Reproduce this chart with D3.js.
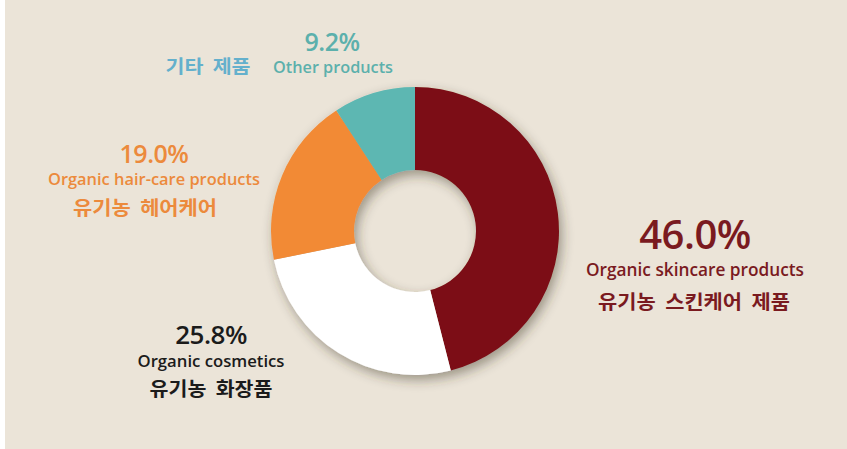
<!DOCTYPE html>
<html>
<head>
<meta charset="utf-8">
<script src="https://cdn.jsdelivr.net/npm/d3@7"></script>
<style>
html,body{margin:0;padding:0;background:#ffffff;}
svg{display:block;}
</style>
</head>
<body>
<svg id="chart" width="847" height="449"></svg>
<script>
// ---- data ----
const categoriesEn = ["Organic skincare products", "Organic cosmetics", "Organic hair-care products", "Other products"];
const categoriesKo = ["유기농 스킨케어 제품", "유기농 화장품", "유기농 헤어케어", "기타 제품"];
const values = [46.0, 25.8, 19.0, 9.2];
const valueLabels = ["46.0%", "25.8%", "19.0%", "9.2%"];

// ---- styles ----
const sliceColors = ["#7b1115", "#ffffff", "#f28a35", "#5db7b2"];
const textColors = ["#7a1a1f", "#1b1b1b", "#ec8a3c", "#5cb0ac"];
const koColors = ["#7a1a1f", "#1b1b1b", "#ec8a3c", "#64b0cc"];

const W = 847, H = 449;
const svg = d3.select("#chart");

svg.append("rect").attr("x", 0).attr("y", 0).attr("width", W).attr("height", H).attr("fill", "#ffffff");
svg.append("rect").attr("x", 5).attr("y", 0).attr("width", W - 5).attr("height", H).attr("fill", "#ebe4d8");

const defs = svg.append("defs");
const f = defs.append("filter").attr("id", "shadow").attr("x", "-30%").attr("y", "-30%").attr("width", "160%").attr("height", "160%");
f.append("feDropShadow").attr("dx", 3).attr("dy", 5).attr("stdDeviation", 6)
  .attr("flood-color", "#3a3028").attr("flood-opacity", 0.45);

const cx = 415, cy = 231, rOuter = 144, rInner = 61;

const data = values.map((v, i) => ({ v, i }));
const pie = d3.pie().value(d => d.v).sort(null).startAngle(0).endAngle(2 * Math.PI);
const arc = d3.arc().innerRadius(rInner).outerRadius(rOuter);

const g = svg.append("g").attr("transform", `translate(${cx},${cy})`);
const ring = g.append("g").attr("filter", "url(#shadow)");
ring.selectAll("path").data(pie(data)).join("path")
  .attr("d", arc)
  .attr("fill", d => sliceColors[d.data.i]);

// ---- labels (layout) ----
const layout = [
  { pct: [695, 249, 40], en: [695, 276, 17.5, 218], ko: [694, 309, 19, 192] },
  { pct: [211, 344, 26], en: [211, 367, 15.5, 147], ko: [211, 396, 19, 123] },
  { pct: [154, 163, 25], en: [154, 185, 15.5, 212], ko: [145, 215, 19, 144] },
  { pct: [332, 51, 25], en: [333, 73, 15.5, 120], ko: [208, 73, 18, 85] }
];

const lbl = svg.append("g");
layout.forEach((L, i) => {
  lbl.append("text")
    .attr("x", L.pct[0]).attr("y", L.pct[1])
    .attr("text-anchor", "middle")
    .attr("font-family", "'Open Sans', 'Noto Sans', sans-serif")
    .attr("font-weight", 600)
    .attr("font-size", L.pct[2])
    .attr("letter-spacing", -0.5)
    .attr("fill", textColors[i])
    .text(valueLabels[i]);
  lbl.append("text")
    .attr("x", L.en[0]).attr("y", L.en[1])
    .attr("text-anchor", "middle")
    .attr("font-family", "'Open Sans', 'Noto Sans', sans-serif")
    .attr("font-weight", 600)
    .attr("font-size", L.en[2])
    .attr("textLength", L.en[3])
    .attr("lengthAdjust", "spacingAndGlyphs")
    .attr("fill", textColors[i])
    .text(categoriesEn[i]);
  lbl.append("text")
    .attr("x", L.ko[0]).attr("y", L.ko[1])
    .attr("text-anchor", "middle")
    .attr("font-family", "'Noto Sans CJK KR', sans-serif")
    .attr("font-weight", 700)
    .attr("font-size", L.ko[2])
    .attr("textLength", L.ko[3])
    .attr("lengthAdjust", "spacingAndGlyphs")
    .attr("fill", koColors[i])
    .attr("xml:space", "preserve")
    .text(categoriesKo[i].replace(/ /g, "  "));
});
</script>
</body>
</html>
